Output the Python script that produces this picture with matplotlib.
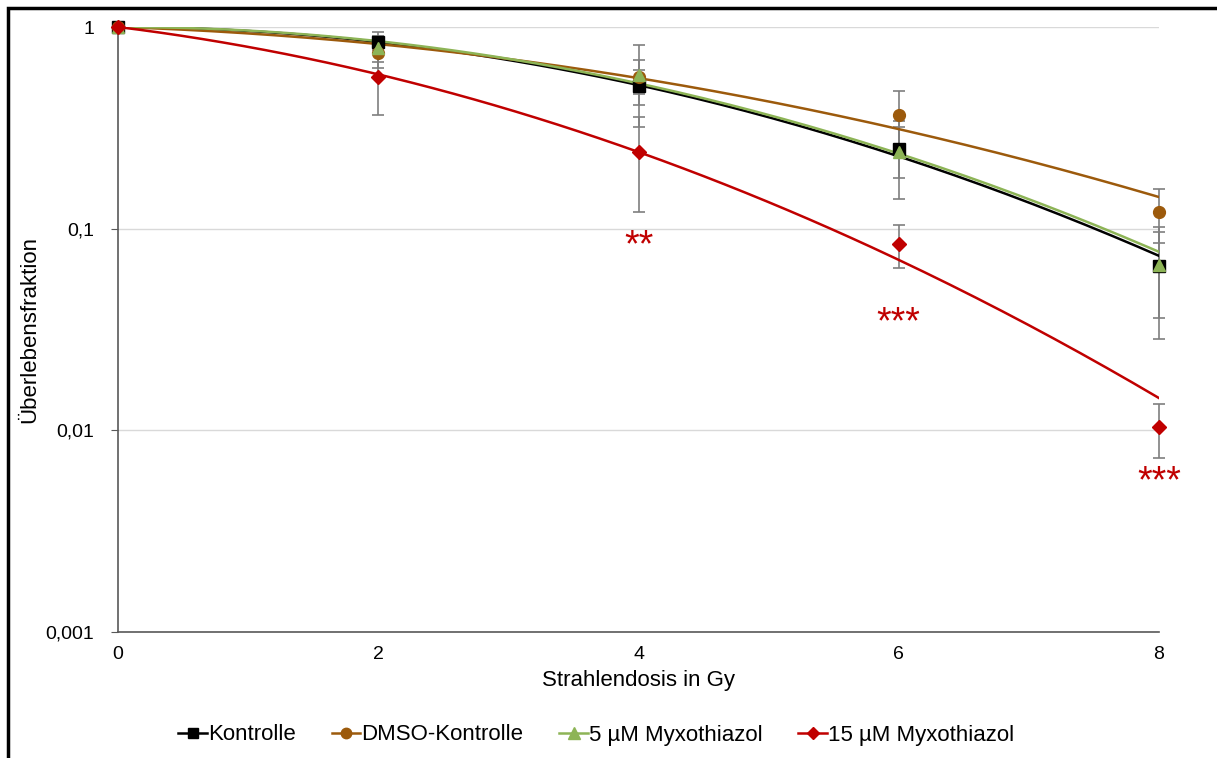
import numpy as np
import matplotlib.pyplot as plt
from matplotlib.patches import Rectangle

plt.rcParams['font.family'] = ['Liberation Sans', 'DejaVu Sans']

# Dosis in Gy
dosis = [0, 2, 4, 6, 8]

labels = ["Kontrolle", "DMSO-Kontrolle", "5 µM Myxothiazol", "15 µM Myxothiazol"]

# mittlere Ueberlebensfraktion
sf_kontrolle = [1.0, 0.843, 0.51, 0.248, 0.0653]
sf_dmso = [1.0, 0.743, 0.565, 0.366, 0.121]
sf_myxo5 = [1.0, 0.787, 0.578, 0.24, 0.066]
sf_myxo15 = [1.0, 0.565, 0.24, 0.084, 0.0104]

# Standardabweichung
sd_kontrolle = [0.0, 0.10, 0.10, 0.07, 0.037]
sd_dmso = [0.0, 0.117, 0.245, 0.116, 0.036]
sd_myxo5 = [0.0, 0.115, 0.11, 0.10, 0.030]
sd_myxo15 = [0.0, 0.20, 0.119, 0.02, 0.0031]

# LQ-Fit: S = exp(-alpha*D - beta*D^2)
alpha = [0.005, 0.0491, 0.0009, 0.184]
beta = [0.0402, 0.0242, 0.0400, 0.0432]

colors = ["#000000", "#9C5A0C", "#8DB456", "#C00000"]
markers = ["s", "o", "^", "D"]
msizes = [8.5, 8.5, 9, 7.5]

fig = plt.figure(figsize=(12.17, 7.58), dpi=100)
ax = fig.add_axes([118 / 1217, 1 - 632 / 758, (1159 - 118) / 1217, (632 - 27) / 758])

sf = [sf_kontrolle, sf_dmso, sf_myxo5, sf_myxo15]
sd = [sd_kontrolle, sd_dmso, sd_myxo5, sd_myxo15]

# Fehlerbalken zuerst, damit die Marker darueber liegen
for i in range(4):
	eb = ax.errorbar(dosis, sf[i], yerr=sd[i], fmt="none", ecolor="#7F7F7F",
		elinewidth=1.2, capsize=4, capthick=1.2, zorder=2)
	for art in eb.lines[1] + eb.lines[2]:
		art.set_clip_on(False)

d = np.linspace(0, 8, 200)
for i in range(4):
	fit = np.exp(-alpha[i] * d - beta[i] * d ** 2)
	ax.plot(d, fit, color=colors[i], lw=1.8, zorder=3 + i)
	ax.plot(dosis, sf[i], linestyle="none", marker=markers[i], ms=msizes[i],
		color=colors[i], zorder=8 + i, clip_on=False)
	# Legendeneintrag: Linie mit Marker
	ax.plot([], [], color=colors[i], lw=1.8, marker=markers[i], ms=msizes[i] - 1,
		label=labels[i])

# Signifikanzsterne
for x, y, s in [(4, 0.082, "**"), (6, 0.034, "***"), (8, 0.0055, "***")]:
	ax.text(x, y, s, color="#C00000", fontsize=27,
		ha="center", va="center")

ax.set_yscale("log")
ax.set_ylim(0.001, 1)
ax.set_xlim(0, 8)
ax.set_xticks([0, 2, 4, 6, 8])
ax.set_yticks([0.001, 0.01, 0.1, 1])
ax.set_yticklabels(["0,001", "0,01", "0,1", "1"])
ax.minorticks_off()
ax.tick_params(axis="y", length=5, color="#595959", labelsize=14, pad=12)
ax.tick_params(axis="x", length=0, labelsize=14, pad=10)
ax.yaxis.grid(True, color="#D9D9D9", lw=1)
ax.set_axisbelow(True)
for s in ["top", "right"]:
	ax.spines[s].set_visible(False)
for s in ["left", "bottom"]:
	ax.spines[s].set_color("#595959")
	ax.spines[s].set_linewidth(1.2)

ax.set_xlabel("Strahlendosis in Gy", fontsize=16, labelpad=5)
ax.set_ylabel("Überlebensfraktion", fontsize=16, labelpad=4)

fig.legend(loc="center", bbox_to_anchor=(0.49, 1 - 735 / 758), ncol=4, frameon=False,
	fontsize=16, handlelength=1.3, handletextpad=0.05, columnspacing=1.6)

# Rahmen um die Grafik (links und oben)
fig.patches.append(Rectangle((8 / 1217, -0.5), 2, 1.5 - 8 / 758, transform=fig.transFigure,
	fill=False, edgecolor="black", lw=2.5, clip_on=False))

fig.savefig("out.png", dpi=100)
